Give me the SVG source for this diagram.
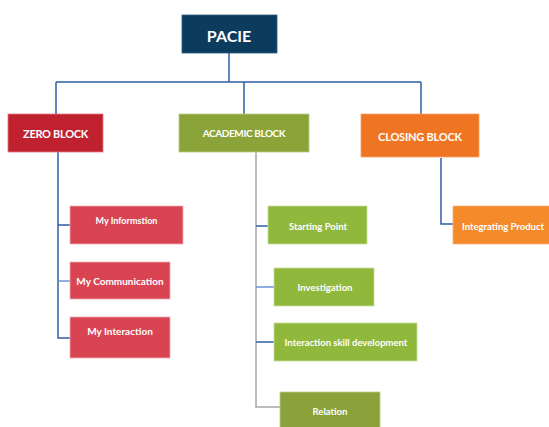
<svg xmlns="http://www.w3.org/2000/svg" width="549" height="427" viewBox="0 0 549 427">
<style>
text{font-family:Lato,"Open Sans","Liberation Sans",sans-serif;font-weight:bold;fill:#fff;text-anchor:middle;dominant-baseline:central}
.c{fill:none;stroke:#2f5ea8;stroke-width:1.5}
.g{fill:none;stroke:#a6a6a6;stroke-width:1.5}
.lb{fill:none;stroke:#6b93cf;stroke-width:1.5}
.red{fill:#d94452;stroke:#f0b0b6;stroke-width:0.8}
.grn{fill:#8fb83c;stroke:#c8de9a;stroke-width:0.8}
.s{font-size:10px}
.m{font-size:11px}
</style>
<rect width="549" height="427" fill="#fff"/>
<g id="connectors">
<path class="c" d="M229 53V82M56 82H421M56 82V114M244 82V114M421 82V114"/>
<path class="c" d="M58 152V338H70M58 225H70"/>
<path class="lb" d="M58 281H70"/>
<path class="g" d="M256 152V407H280"/>
<path class="c" d="M256 226H268M256 342H274"/>
<path class="lb" d="M256 287H274"/>
<path class="c" d="M441 158V224H453"/>
</g>
<g id="pacie"><rect x="182" y="15" width="95" height="38" fill="#0b3c5d" stroke="#2a5a7c" stroke-width="0.8"/><text x="229" y="35" style="font-size:16px">PACIE</text></g>
<g id="zero"><rect x="8" y="114" width="95" height="38" fill="#c0212f" stroke="#e07a82" stroke-width="0.8"/><text class="m" x="55.5" y="133.5" style="letter-spacing:-0.3px">ZERO BLOCK</text></g>
<g id="academic"><rect x="179" y="114" width="130" height="38" fill="#8ba43a" stroke="#b9cc85" stroke-width="0.8"/><text x="244" y="133" style="font-size:10px;letter-spacing:-0.4px">ACADEMIC BLOCK</text></g>
<g id="closing"><rect x="361" y="114" width="118" height="43" fill="#f07522" stroke="#f5a066" stroke-width="0.8"/><text class="m" x="420" y="136" style="letter-spacing:-0.2px">CLOSING BLOCK</text></g>
<g id="info"><rect class="red" x="70" y="206" width="113" height="38"/><text x="126.5" y="220" style="font-size:9px">My Informstion</text></g>
<g id="comm"><rect class="red" x="70" y="262" width="100" height="37"/><text class="s" x="120" y="281">My Communication</text></g>
<g id="inter"><rect class="red" x="70" y="317" width="100" height="41"/><text class="s" x="120" y="331">My Interaction</text></g>
<g id="start"><rect class="grn" x="268" y="206" width="99" height="38"/><text x="318" y="226" style="font-size:9.5px">Starting Point</text></g>
<g id="invest"><rect class="grn" x="274" y="268" width="100" height="38"/><text x="325" y="287" style="font-size:9.5px">Investigation</text></g>
<g id="skill"><rect class="grn" x="274" y="323" width="143" height="38"/><text x="346" y="342" style="font-size:9.5px">Interaction skill development</text></g>
<g id="relation"><rect x="280" y="392" width="100" height="40" fill="#8ba13a" stroke="#bccd88" stroke-width="0.8"/><text x="330" y="411" style="font-size:9.5px">Relation</text></g>
<g id="product"><rect x="453" y="206" width="100" height="38" fill="#f58a2b" stroke="#f8b27a" stroke-width="0.8"/><text x="503" y="226" style="font-size:9.5px">Integrating Product</text></g>
</svg>
